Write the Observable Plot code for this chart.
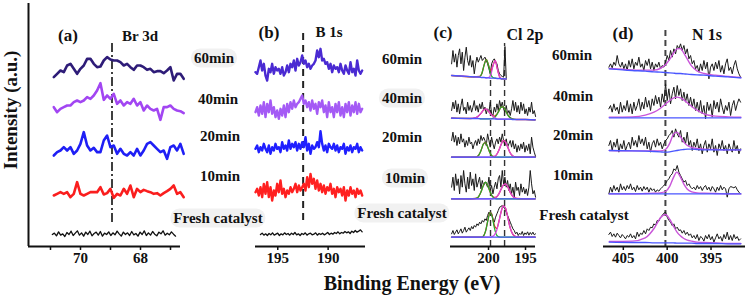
<!DOCTYPE html>
<html><head><meta charset="utf-8">
<script src="https://cdn.jsdelivr.net/npm/d3@7"></script>
<script src="https://cdn.jsdelivr.net/npm/@observablehq/plot@0.6"></script>
<style>
body{margin:0;background:#fff}
#chart{position:relative;width:747px;height:298px;overflow:hidden;font-family:"Liberation Serif","Times New Roman",serif;font-weight:bold;color:#111;background:#fff}
#chart svg{position:absolute;left:0;top:0}
#chart svg text{font-weight:bold}
.lbl{position:absolute;white-space:nowrap;transform:translate(-50%,-50%);line-height:1}
.shade{background:#f1f1f1;border-radius:9px;padding:2px 3px}
.ylab{position:absolute;left:11px;top:110px;transform:translate(-50%,-50%) rotate(-90deg);font-size:19px;white-space:nowrap}
.xlab{position:absolute;left:412px;top:283px;transform:translate(-50%,-50%);font-size:20px;white-space:nowrap}
</style></head><body><div id="chart"></div>
<script>
// ---------- series names ----------
const seriesNames = ["60min","40min","20min","10min","Fresh catalyst"];

// ---------- Panel (a) Br 3d ----------
const aRange = [70.89, 66.56], aFreshRange = [70.94, 66.83];
const aOffsets = [498, 378, 263, 143, 28];
const a60 = [10,20,30,25,45,50,35,20,35,45,65,65,50,40,42,60,70,63,60,60,55,45,50,40,32,45,45,40,32,35,25,28,28,22,30,40,0,20,20,5];
const a40 = [40,25,35,40,45,45,55,60,55,60,70,65,75,90,112,62,75,65,80,50,60,45,55,50,65,45,55,30,45,35,30,35,2,40,40,45,35,30,28,22];
const a20 = [10,20,25,35,25,35,15,25,45,80,40,25,33,20,20,55,70,35,40,15,30,15,10,20,10,30,10,25,45,50,40,30,20,25,0,35,40,25,45,15];
const a10 = [10,15,20,15,20,5,15,50,15,10,15,20,20,20,35,13,17,30,3,15,10,30,15,40,5,30,20,27,23,20,15,17,10,17,23,30,40,15,20,5];
const aFresh = [8,12,4,16,6,10,2,14,8,18,5,12,19,6,13,3,15,8,18,4,11,15,6,17,3,12,8,16,5,13,7,18,10,3,15,8,13,5,17,7,11,3,15,8,19,5,13,6,17,9,4,15,10,19,6,12,7,16,9,3];
const aPeakLine = [68.95];
const aTicks = [71,70,69,68,67], aTickLabels = [70,68];

// ---------- Panel (b) B 1s ----------
const bRange = [197.21, 186.62], bFreshRange = [196.72, 186.62];
const bOffsets = [493, 378, 273, 133, 28];
const b60 = [30,25,45,65,35,55,20,5,40,30,55,25,45,35,40,25,45,20,30,50,30,55,45,65,35,70,50,60,80,55,65,45,55,40,50,55,65,95,75,100,65,70,55,60,40,55,30,50,40,45,30,55,35,25,50,35,25,60,30,40,20,65,35,25,35];
const b40 = [25,40,15,45,20,55,10,50,25,60,20,40,10,30,5,35,15,45,10,50,25,55,35,60,40,50,55,65,75,50,60,40,55,30,60,35,50,20,55,40,60,25,45,10,55,25,40,10,50,25,55,15,40,10,50,25,55,15,45,25,55,20,50,25,35];
const b20 = [20,30,10,25,15,35,20,10,30,5,25,15,35,20,25,10,40,20,30,15,45,20,35,25,40,15,35,20,40,25,55,15,35,5,30,20,25,40,25,73,35,15,30,10,35,25,20,35,15,30,10,25,20,35,5,25,15,30,10,25,20,35,10,25,15];
const b10 = [30,40,20,45,15,55,25,60,15,45,5,35,20,55,30,65,25,40,15,35,25,45,30,40,55,30,50,35,45,55,35,75,45,85,55,70,40,65,35,55,30,50,25,45,35,55,25,40,15,45,30,40,20,45,5,35,20,45,25,35,15,40,25,35,20];
const bFresh = [8,12,6,10,5,11,7,13,6,9,12,5,10,7,13,8,11,6,12,8,14,7,10,5,11,8,13,6,10,12,7,9,13,6,11,8,12,7,10,14,8,12,9,14,11,16,10,14,12,17,13,16,11,18,14,20,15,18,22,16];
const bPeakLine = [192.48];
const bTicks = [195,190], bTickLabels = [195,190];

// ---------- Panel (c) Cl 2p ----------
const c60Range = [204.99, 197.6], cRange = [204.99, 193.64];
const cOffsets = [498, 378, 263, 138, 23];
const c60 = [50,90,55,80,40,75,95,50,85,30,70,100,60,45,75,40,60,20,50,70,55,65,75,60,65,70,60,50,35,20,50,60,65,55,50,30,20,15,12,10,102,5];
const c40 = [30,55,35,60,25,50,20,45,65,30,40,20,55,30,45,25,40,60,30,45,25,50,35,55,30,40,20,35,25,55,20,15,40,25,50,30,60,40,55,35,25,45,20,30,15,35,60,30,55,25,45,20,55,30,50,20,35,15,40,25,55,20,30,12];
const c20 = [55,80,50,70,40,65,45,75,50,60,35,55,40,65,45,50,30,45,55,40,60,45,70,55,65,55,40,75,55,35,65,45,30,50,60,45,65,50,75,55,40,60,35,45,55,35,55,30,45,20,40,25,45,30,50,20,40,25,45,15,65,35,20,7];
const c10 = [40,70,30,80,45,65,20,75,40,90,50,25,70,35,85,45,65,30,80,40,55,70,35,60,45,55,50,40,70,30,45,20,40,55,35,65,75,40,90,50,70,40,60,30,50,20,40,10,55,30,40,15,50,25,40,20,35,15,40,90,50,20,30,10];
const cFresh = [15,25,13,20,27,15,22,30,17,25,35,20,27,33,25,37,30,40,35,45,40,50,45,55,50,60,55,70,80,75,77,60,50,65,75,85,95,97,100,95,90,80,70,60,50,40,30,25,15,20,10,17,13,22,10,18,13,21,11,19,13,20,12,15];
const cPeakLines = [199.73, 197.83];
const cTicks = [200,195], cTickLabels = [200,195];
// fitted components (height above background)
const cGrid60 = [205.0,202.0,201.2,200.9,200.6,200.3,200.0,199.7,199.4,199.1,198.8,198.5,198.2,197.6];
const c60Bg = [513,509,508,507,507,506,506,505,505,505,504,504,503,503];
const c60Green = [0,0,2,12,37,55,37,12,2,0,0,0,0,0];
const c60Pink = [0,0,0,0,0,0,1,9,36,53,28,5,0,0];
const cGrid = [205.0,202.5,201.8,201.4,201.0,200.7,200.4,200.1,199.8,199.5,199.2,198.9,198.6,198.3,198.0,197.7,197.4,197.1,196.7,196.2,195.0,193.7];
const c40Bg = [385,384,384,384,383,383,383,383,383,383,383,382,382,382,382,382,382,382,381,381,381,380];
const c40Green = [0,0,0,0,0,0,0,0,0,1,4,13,25,36,37,26,13,5,1,0,0,0];
const c40Pink = [0,0,2,7,17,26,30,26,17,9,4,1,0,0,0,0,0,0,0,0,0,0];
const c20Bg = [268,268,268,268,268,268,268,268,268,268,268,268,268,268,268,268,268,268,268,268,268,268];
const c20Green = [0,0,0,4,21,39,44,30,13,3,0,0,0,0,0,0,0,0,0,0,0,0];
const c20Pink = [0,0,0,0,0,0,0,0,0,0,2,8,21,38,50,45,30,14,3,0,0,0];
const c10Bg = [143,143,143,143,143,143,143,143,143,143,143,143,143,143,143,143,143,143,143,143,143,143];
const c10Green = [0,0,1,5,22,40,50,40,22,8,2,0,0,0,0,0,0,0,0,0,0,0];
const c10Pink = [0,0,0,0,0,0,0,0,0,0,2,6,15,29,41,45,36,21,7,1,0,0];
const cFreshBg = [28,28,28,28,28,28,28,28,28,28,28,28,28,28,28,28,28,28,28,28,28,28];
const cFreshGreen = [0,0,0,0,0,3,18,49,74,61,27,6,1,0,0,0,0,0,0,0,0,0];
const cFreshPink = [0,0,0,0,0,0,0,0,0,2,7,20,46,76,94,87,60,30,8,1,0,0];

// ---------- Panel (d) N 1s ----------
const dRange = [406.65, 391.63];
const dOffsets = [498, 378, 268, 148, 8];
const d60 = [40,50,38,55,45,75,50,40,55,35,50,30,60,40,65,35,55,45,70,40,50,30,60,45,65,35,55,30,50,40,55,35,45,40,55,75,60,90,70,95,80,105,95,110,90,105,80,95,65,75,50,60,35,45,25,50,30,60,35,55,5,40,50,30,55,35,60,25,45,20,50,65,30,40,20,45,60,35,20,10];
const d40 = [35,45,25,50,30,40,20,55,25,45,30,60,25,50,20,55,30,45,65,30,55,35,70,40,60,30,65,45,75,50,70,40,80,55,110,60,95,50,80,100,65,105,75,95,60,85,55,80,45,70,40,65,30,55,25,60,20,45,5,55,30,50,10,60,35,55,25,65,40,20,45,30,55,15,45,60,30,50,65,55];
const d20 = [35,50,20,45,30,55,15,40,25,50,20,35,45,25,60,35,50,30,65,40,55,35,60,25,45,15,40,50,30,55,35,45,25,40,50,55,65,70,80,60,85,70,60,80,45,60,40,75,35,50,20,45,30,55,20,40,10,35,50,15,40,25,55,15,35,5,40,25,50,20,35,10,40,25,15,50,20,35,10,25];
const d10 = [10,30,15,35,20,30,15,40,22,32,20,35,25,40,22,30,17,35,22,30,18,32,22,30,15,28,20,25,15,22,18,25,30,35,40,50,55,65,70,85,80,95,75,65,55,45,50,35,40,30,25,30,22,35,25,32,20,30,35,22,30,18,32,25,15,30,20,35,22,30,25,0,25,32,30,28,32,22,15,10];
const dFresh = [28,35,22,30,20,32,25,18,28,22,15,25,20,30,18,25,15,35,22,32,28,40,30,45,40,50,48,60,55,70,68,80,85,92,95,80,70,65,55,60,45,50,40,42,32,40,28,35,25,30,18,25,15,28,10,22,18,8,25,15,28,12,22,5,18,30,15,22,8,28,15,35,12,25,10,28,15,22,10,15];
const dPeakLine = [400.2];
const dTicks = [405,400,395], dTickLabels = [405,400,395];
const dGrid = [406.6,404.0,402.5,401.5,400.8,400.2,399.7,399.3,398.9,398.5,398.1,397.7,397.2,396.6,395.8,394.5,393.0,391.6];
const d60Bg = [533,528,526,524,523,522,521,520,519,519,518,517,516,515,514,511,509,506];
const d60Peak = [1,2,3,5,11,23,41,59,74,75,62,45,25,12,5,3,1,1];
const d40Bg = [386,386,386,386,386,386,386,386,386,386,386,386,386,386,386,386,386,386];
const d40Peak = [2,3,8,17,28,41,52,59,62,60,54,45,34,23,12,5,3,2];
const d20Bg = [288,287,286,285,284,283,284,286,288,290,291,292,292,291,290,290,290,290];
const d20Peak = [0,0,1,2,3,8,26,50,55,40,22,11,5,3,2,1,0,0];
const d10Bg = [158,158,158,158,158,158,158,158,158,158,158,158,158,158,158,158,158,158];
const d10Peak = [0,0,1,2,3,7,23,48,65,51,29,14,6,3,2,1,0,0];
const dFreshBg = [13,12,12,11,11,11,11,11,10,10,10,10,10,9,9,9,8,8];
const dFreshPeak = [2,4,14,43,74,85,70,51,34,22,14,9,6,4,3,2,1,1];

// ---------- helpers ----------
function trace(vals, range, off) {
  const n = vals.length;
  return vals.map((v, i) => ({E: range[0] + (range[1] - range[0]) * i / (n - 1), I: off + v}));
}
function fitLine(grid, bg, ...comps) {
  return grid.map((E, i) => ({E, I: bg[i] + comps.reduce((s, c) => s + c[i], 0)}));
}
const FONT = '"Liberation Serif","Times New Roman",serif';
function panel({domain, left, right, ticks, tickLabels, marks}) {
  return Plot.plot({
    width: 747, height: 298, marginTop: 0, marginBottom: 52,
    marginLeft: left, marginRight: 747 - right,
    x: {domain, axis: null}, y: {domain: [0, 738], axis: null},
    style: {background: "transparent", fontFamily: FONT, color: "#111", overflow: "visible"},
    marks: [
      ...marks,
      Plot.ruleY([0], {stroke: "#111", strokeWidth: 2}),
      Plot.axisX({ticks, tickSize: 4, tickPadding: 2, fontSize: 15, strokeWidth: 1.5, label: null,
        tickFormat: d => tickLabels.includes(d) ? String(d) : ""})
    ]
  });
}
const lineOpts = (stroke, w) => ({x: "E", y: "I", stroke, strokeWidth: w, strokeLinejoin: "round"});

const chart = document.getElementById("chart");

// Panel (a)
const aCols = ["#2e1c78", "#a246f2", "#1f1ff5", "#fa1e1e"];
const aData = [a60, a40, a20, a10];
chart.appendChild(panel({
  domain: [71.733, 66.667], left: 28, right: 180, ticks: aTicks, tickLabels: aTickLabels,
  marks: [
    Plot.ruleX([71.733], {y1: 0, y2: 729, stroke: "#111", strokeWidth: 2}),
    Plot.ruleX(aPeakLine, {y1: 72, y2: 618, stroke: "#111", strokeWidth: 1.6, strokeDasharray: "9,3,2,3"}),
    ...aData.map((v, i) => Plot.line(trace(v, aRange, aOffsets[i]), lineOpts(aCols[i], 2.6))),
    Plot.line(trace(aFresh, aFreshRange, aOffsets[4]), lineOpts("#111", 1.3))
  ]
}));

// Panel (b)
const bCols = ["#4a2ad2", "#a45af5", "#2020ff", "#ff2020"];
const bData = [b60, b40, b20, b10];
chart.appendChild(panel({
  domain: [197.21, 186.29], left: 255, right: 365, ticks: bTicks, tickLabels: bTickLabels,
  marks: [
    Plot.ruleX(bPeakLine, {y1: 78, y2: 642, stroke: "#222", strokeWidth: 2, strokeDasharray: "7,5"}),
    ...bData.map((v, i) => Plot.line(trace(v, bRange, bOffsets[i]), lineOpts(bCols[i], 2.4))),
    Plot.line(trace(bFresh, bFreshRange, bOffsets[4]), lineOpts("#111", 1.3))
  ]
}));

// Panel (c)
const GREEN = "#1fae2a", PINK = "#d648dc", RED = "#e8202a", BLUE = "#4a56ff";
const cData = [c40, c20, c10, cFresh];
const cFits = [
  [cGrid60, c60Bg, c60Green, c60Pink],
  [cGrid, c40Bg, c40Green, c40Pink],
  [cGrid, c20Bg, c20Green, c20Pink],
  [cGrid, c10Bg, c10Green, c10Pink],
  [cGrid, cFreshBg, cFreshGreen, cFreshPink]
];
chart.appendChild(panel({
  domain: [205.14, 193.65], left: 450, right: 535, ticks: cTicks, tickLabels: cTickLabels,
  marks: [
    Plot.ruleX([cPeakLines[0]], {y1: 0, y2: 540, stroke: "#333", strokeWidth: 1.4, strokeDasharray: "6,4"}),
    Plot.ruleX([cPeakLines[1]], {y1: 0, y2: 609, stroke: "#333", strokeWidth: 1.4, strokeDasharray: "6,4"}),
    Plot.line(trace(c60, c60Range, cOffsets[0]), lineOpts("#1a1a1a", 1)),
    ...cData.map((v, i) => Plot.line(trace(v, cRange, cOffsets[i + 1]), lineOpts("#1a1a1a", 1))),
    ...cFits.flatMap(([g, bg, gr, pk]) => [
      Plot.line(fitLine(g, bg, gr, pk), {...lineOpts(RED, 1.3), curve: "monotone-x"}),
      Plot.line(fitLine(g, bg, gr), {...lineOpts(GREEN, 1.2), curve: "monotone-x"}),
      Plot.line(fitLine(g, bg, pk), {...lineOpts(PINK, 1.2), curve: "monotone-x"}),
      Plot.line(fitLine(g, bg), {...lineOpts(BLUE, 1.3), curve: "monotone-x"})
    ])
  ]
}));

// Panel (d)
const dData = [d60, d40, d20, d10, dFresh];
const dFits = [[d60Bg, d60Peak], [d40Bg, d40Peak], [d20Bg, d20Peak], [d10Bg, d10Peak], [dFreshBg, dFreshPeak]];
chart.appendChild(panel({
  domain: [407.26, 391.07], left: 603, right: 745, ticks: dTicks, tickLabels: dTickLabels,
  marks: [
    Plot.ruleX(dPeakLine, {y1: 0, y2: 648, stroke: "#444", strokeWidth: 2, strokeDasharray: "6,4"}),
    ...dData.map((v, i) => Plot.line(trace(v, dRange, dOffsets[i]), lineOpts("#1a1a1a", 1))),
    ...dFits.flatMap(([bg, pk]) => [
      Plot.line(fitLine(dGrid, bg, pk), {...lineOpts("#c955d9", 1.4), curve: "monotone-x"}),
      Plot.line(fitLine(dGrid, bg), {...lineOpts(BLUE, 1.4), curve: "monotone-x"})
    ])
  ]
}));

// ---------- text ----------
const panelTitles = [["(a)", 68, 35, 17], ["Br 3d", 140, 36, 15], ["(b)", 269, 32, 17], ["B 1s", 329, 32, 15],
  ["(c)", 443, 32, 17], ["Cl 2p", 525, 35, 16], ["(d)", 623, 33, 17], ["N 1s", 707, 35, 16]];
const seriesLabelPos = [
  [[214, 58, true], [218, 99], [220, 136], [220, 176], [218, 218, true]],
  [[402, 59], [402, 98, true], [402, 137], [405, 178, true], [402, 213, true]],
  [[572, 55], [573, 96], [573, 135], [573, 175], [584, 215]]
];
function addText(t, x, y, size, shade) {
  const el = document.createElement("div");
  el.className = "lbl" + (shade ? " shade" : "");
  el.textContent = t;
  el.style.left = x + "px"; el.style.top = y + "px"; el.style.fontSize = size + "px";
  chart.appendChild(el);
}
panelTitles.forEach(([t, x, y, s]) => addText(t, x, y, s));
seriesLabelPos.forEach(group => group.forEach(([x, y, sh], i) => addText(seriesNames[i], x, y, 15, sh)));
const yl = document.createElement("div"); yl.className = "ylab"; yl.textContent = "Intensity (a.u.)"; chart.appendChild(yl);
const xl = document.createElement("div"); xl.className = "xlab"; xl.textContent = "Binding Energy (eV)"; chart.appendChild(xl);
</script></body></html>
